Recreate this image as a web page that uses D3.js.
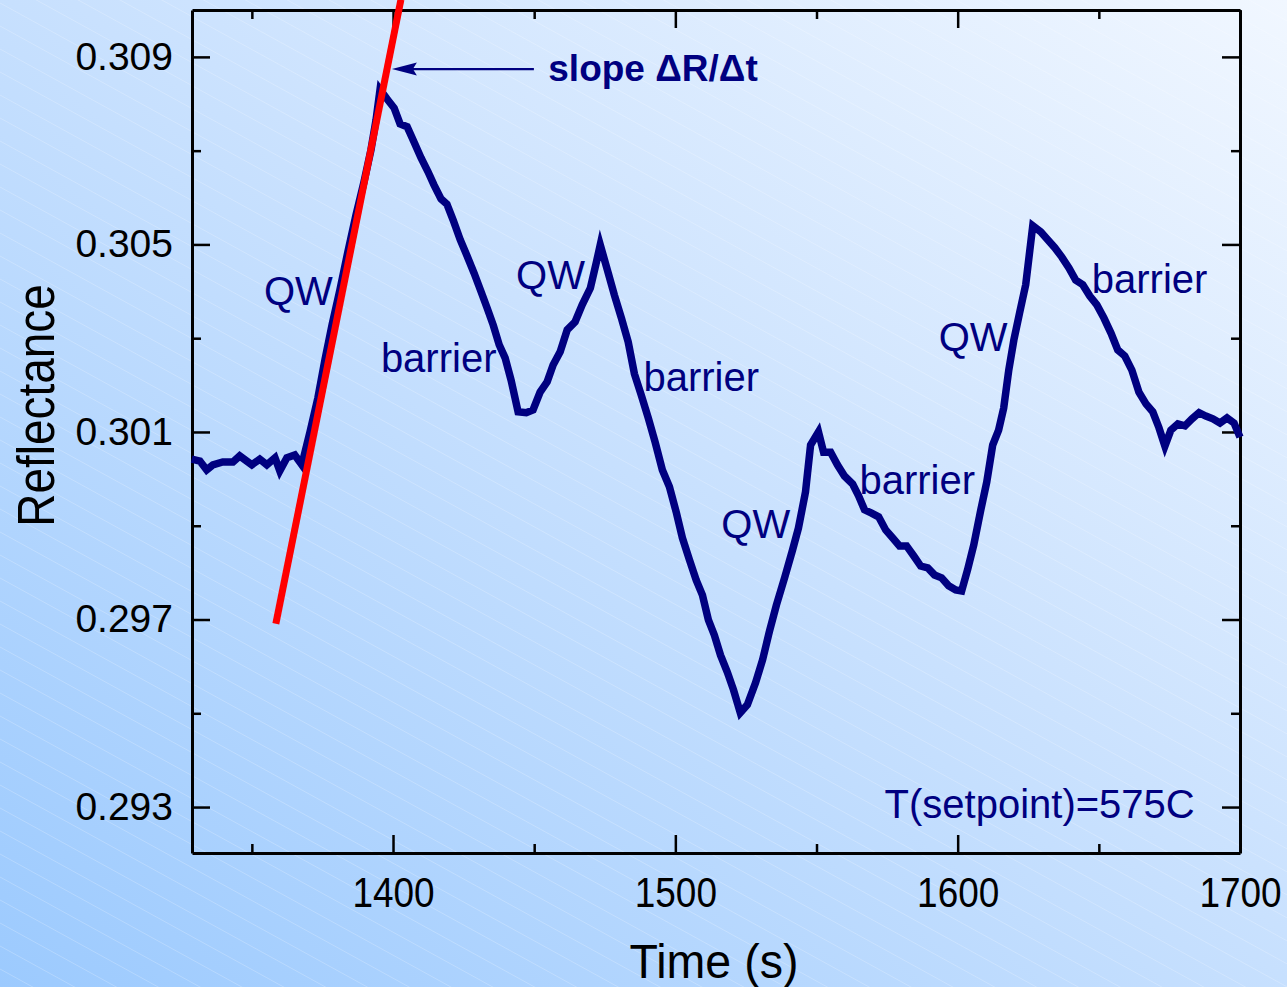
<!DOCTYPE html>
<html>
<head>
<meta charset="utf-8">
<script src="https://cdn.jsdelivr.net/npm/d3@7"></script>
<style>
  html, body { margin: 0; padding: 0; background: #cfe3fd; }
  svg { display: block; }
  text { font-family: "Liberation Sans", Arial, Helvetica, sans-serif; }
</style>
</head>
<body>
<svg id="chart" width="1287" height="987"></svg>
<script>
// ---------------- data ----------------
const times = [
  1328.7, 1331.6, 1334.0, 1336.2, 1339.7, 1343.3, 1345.7, 1350.0, 1352.8, 1355.3,
  1358.2, 1359.9, 1362.4, 1365.2, 1367.7, 1370.6, 1373.4, 1375.9, 1378.4, 1381.2,
  1384.0, 1386.9, 1389.7, 1392.2, 1394.0, 1395.4, 1397.9, 1400.4, 1402.5, 1405.0,
  1407.4, 1409.9, 1412.4, 1414.5, 1417.0, 1419.1, 1421.3, 1423.8, 1426.2, 1428.7,
  1431.2, 1433.3, 1435.5, 1437.6, 1439.7, 1441.8, 1444.3, 1447.2, 1449.6, 1452.1,
  1454.6, 1456.7, 1459.2, 1461.7, 1464.5, 1467.0, 1469.9, 1472.0, 1473.4, 1475.9,
  1478.4, 1480.9, 1483.3, 1485.5, 1487.9, 1490.4, 1492.9, 1495.4, 1497.9, 1500.4,
  1502.5, 1505.0, 1507.4, 1509.6, 1511.7, 1513.8, 1516.0, 1518.4, 1520.6, 1523.0,
  1525.5, 1528.4, 1530.9, 1533.3, 1535.8, 1538.7, 1541.5, 1543.6, 1546.1, 1547.9,
  1550.7, 1552.5, 1555.0, 1557.4, 1559.9, 1562.8, 1564.9, 1567.0, 1569.5, 1572.0,
  1574.5, 1577.0, 1579.4, 1581.9, 1584.4, 1586.9, 1589.4, 1591.8, 1594.3, 1596.8,
  1599.3, 1601.4, 1603.5, 1605.7, 1608.2, 1610.3, 1612.4, 1614.5, 1616.3, 1618.1,
  1619.9, 1622.0, 1624.1, 1626.6, 1629.4, 1631.9, 1634.4, 1636.9, 1639.4, 1641.8,
  1644.3, 1646.8, 1649.3, 1651.8, 1654.3, 1656.7, 1659.2, 1661.7, 1664.2, 1666.7,
  1669.1, 1671.3, 1673.4, 1675.5, 1678.0, 1680.5, 1683.0, 1685.5, 1687.9, 1690.4,
  1692.9, 1695.4, 1697.9, 1700.0
];
const reflectance = [
  0.30042, 0.30038, 0.30019, 0.30030, 0.30036, 0.30036, 0.30049, 0.30030, 0.30042, 0.30030,
  0.30045, 0.30017, 0.30045, 0.30051, 0.30030, 0.30100, 0.30173, 0.30254, 0.30328, 0.30403,
  0.30484, 0.30563, 0.30633, 0.30702, 0.30766, 0.30830, 0.30810, 0.30791, 0.30757, 0.30751,
  0.30719, 0.30685, 0.30655, 0.30627, 0.30597, 0.30586, 0.30552, 0.30510, 0.30476, 0.30439,
  0.30399, 0.30365, 0.30328, 0.30286, 0.30258, 0.30211, 0.30143, 0.30141, 0.30147, 0.30185,
  0.30207, 0.30243, 0.30271, 0.30318, 0.30335, 0.30371, 0.30407, 0.30461, 0.30499, 0.30446,
  0.30392, 0.30343, 0.30292, 0.30224, 0.30179, 0.30130, 0.30077, 0.30019, 0.29983, 0.29927,
  0.29874, 0.29827, 0.29784, 0.29752, 0.29699, 0.29667, 0.29624, 0.29588, 0.29550, 0.29501,
  0.29518, 0.29565, 0.29614, 0.29674, 0.29731, 0.29789, 0.29848, 0.29895, 0.29972, 0.30072,
  0.30100, 0.30057, 0.30057, 0.30030, 0.30006, 0.29989, 0.29964, 0.29934, 0.29927, 0.29919,
  0.29891, 0.29874, 0.29857, 0.29857, 0.29836, 0.29814, 0.29810, 0.29795, 0.29789, 0.29772,
  0.29763, 0.29761, 0.29806, 0.29859, 0.29934, 0.29993, 0.30072, 0.30104, 0.30151, 0.30232,
  0.30296, 0.30356, 0.30414, 0.30540, 0.30527, 0.30510, 0.30493, 0.30473, 0.30450, 0.30424,
  0.30414, 0.30390, 0.30371, 0.30343, 0.30311, 0.30275, 0.30262, 0.30232, 0.30185, 0.30160,
  0.30143, 0.30109, 0.30070, 0.30104, 0.30117, 0.30113, 0.30128, 0.30141, 0.30134, 0.30128,
  0.30119, 0.30130, 0.30119, 0.30089
];

// linear fit (red) endpoints
const fitTimes = [1358.5, 1402.8];
const fitValues = [0.29691, 0.31022];

// tick values
const xMajorTicks = [1400, 1500, 1600, 1700];
const xMinorTicks = [1350, 1450, 1550, 1650];
const yMajorTicks = [0.293, 0.297, 0.301, 0.305, 0.309];
const yMinorTicks = [0.295, 0.299, 0.303, 0.307];

// annotations (data coords: left x, baseline y)
const labelTexts = ["QW", "barrier", "QW", "barrier", "QW", "barrier", "QW", "barrier", "T(setpoint)=575C"];
const labelTimes = [1354.3, 1395.7, 1443.6, 1488.7, 1516.3, 1565.2, 1593.3, 1647.5, 1574.1];
const labelValues = [0.30371, 0.30228, 0.30405, 0.30188, 0.29874, 0.29968, 0.30273, 0.30397, 0.29277];

const slopeText = "slope \u0394R/\u0394t";
const slopeArrowTimes = [1449.9, 1399.6];   // tail, tip
const slopeArrowValue = 0.30874;
const slopeTextTime = 1455.0;
const slopeTextValue = 0.30849;

// ---------------- layout ----------------
const W = 1287, H = 987;
const mLeft = 192, mRight = 1240, mTop = 10, mBottom = 853;
const navy = "#000080";

const svg = d3.select("#chart");
const defs = svg.append("defs");

const grad = defs.append("linearGradient").attr("id", "bg")
  .attr("x1", 0).attr("y1", 1).attr("x2", 1).attr("y2", 0);
grad.append("stop").attr("offset", "0%").attr("stop-color", "#9ccafe");
grad.append("stop").attr("offset", "55%").attr("stop-color", "#cbe2fe");
grad.append("stop").attr("offset", "100%").attr("stop-color", "#f1f7ff");

svg.append("rect").attr("width", W).attr("height", H).attr("fill", "url(#bg)");

// faint diagonal stripes
const stripes = svg.append("g").attr("stroke", "#ffffff").attr("stroke-opacity", 0.22).attr("stroke-width", 1);
for (let k = -1400; k < H + 100; k += 23) {
  stripes.append("line").attr("x1", 0).attr("y1", k).attr("x2", W).attr("y2", k + W * 0.55);
}

const x = d3.scaleLinear().domain([1328.8, 1700]).range([mLeft, mRight]);
const y = d3.scaleLinear().domain([0.29202, 0.3100]).range([mBottom, mTop]);

// ---------------- axes ----------------
function styleAxis(g, width) {
  g.select(".domain").attr("stroke", "#000").attr("stroke-width", width);
  g.selectAll(".tick line").attr("stroke", "#000").attr("stroke-width", 2.5);
}

// minor ticks
svg.append("g").attr("transform", `translate(0,${mBottom})`)
  .call(d3.axisBottom(x).tickValues(xMinorTicks).tickSize(-9).tickFormat(""))
  .call(g => { g.select(".domain").remove(); styleAxis(g, 0); });
svg.append("g").attr("transform", `translate(0,${mTop})`)
  .call(d3.axisTop(x).tickValues(xMinorTicks).tickSize(-9).tickFormat(""))
  .call(g => { g.select(".domain").remove(); styleAxis(g, 0); });
svg.append("g").attr("transform", `translate(${mLeft},0)`)
  .call(d3.axisLeft(y).tickValues(yMinorTicks).tickSize(-9).tickFormat(""))
  .call(g => { g.select(".domain").remove(); styleAxis(g, 0); });
svg.append("g").attr("transform", `translate(${mRight},0)`)
  .call(d3.axisRight(y).tickValues(yMinorTicks).tickSize(-9).tickFormat(""))
  .call(g => { g.select(".domain").remove(); styleAxis(g, 0); });

// major ticks + labels
const xAxisB = svg.append("g").attr("transform", `translate(0,${mBottom})`)
  .call(d3.axisBottom(x).tickValues(xMajorTicks).tickSizeInner(-18).tickSizeOuter(0).tickPadding(24).tickFormat(d3.format("d")))
  .call(g => styleAxis(g, 3));
xAxisB.selectAll(".tick text")
  .attr("fill", "#000").attr("font-size", 42)
  .attr("font-family", "'Liberation Sans', Arial, sans-serif")
  .attr("transform", "scale(0.88,1)")
  .attr("dy", "0.72em");

svg.append("g").attr("transform", `translate(0,${mTop})`)
  .call(d3.axisTop(x).tickValues(xMajorTicks).tickSizeInner(-18).tickSizeOuter(0).tickFormat(""))
  .call(g => styleAxis(g, 3));

const yAxisL = svg.append("g").attr("transform", `translate(${mLeft},0)`)
  .call(d3.axisLeft(y).tickValues(yMajorTicks).tickSizeInner(-18).tickSizeOuter(0).tickPadding(19).tickFormat(d3.format(".3f")))
  .call(g => styleAxis(g, 3));
yAxisL.selectAll(".tick text")
  .attr("fill", "#000").attr("font-size", 39)
  .attr("font-family", "'Liberation Sans', Arial, sans-serif");

svg.append("g").attr("transform", `translate(${mRight},0)`)
  .call(d3.axisRight(y).tickValues(yMajorTicks).tickSizeInner(-18).tickSizeOuter(0).tickFormat(""))
  .call(g => styleAxis(g, 3));

// axis titles
svg.append("text")
  .attr("transform", `translate(${(mLeft + mRight) / 2 - 2},978) scale(0.95,1)`)
  .attr("text-anchor", "middle").attr("font-size", 49).attr("fill", "#000")
  .text("Time (s)");
svg.append("text")
  .attr("transform", `translate(54,${(mTop + mBottom) / 2 - 26}) rotate(-90) scale(0.9,1)`)
  .attr("text-anchor", "middle").attr("font-size", 51).attr("fill", "#000")
  .text("Reflectance");

// ---------------- data line ----------------
const series = times.map((t, i) => [t, reflectance[i]]);
svg.append("path")
  .datum(series)
  .attr("fill", "none")
  .attr("stroke", navy)
  .attr("stroke-width", 7.5)
  .attr("stroke-linejoin", "miter")
  .attr("stroke-miterlimit", 10)
  .attr("d", d3.line().x(d => x(d[0])).y(d => y(d[1])));

// fit line
const fit = fitTimes.map((t, i) => [t, fitValues[i]]);
svg.append("path")
  .datum(fit)
  .attr("fill", "none")
  .attr("stroke", "#ff0000")
  .attr("stroke-width", 7)
  .attr("d", d3.line().x(d => x(d[0])).y(d => y(d[1])));

// ---------------- annotations ----------------
svg.append("g").selectAll("text")
  .data(labelTexts)
  .join("text")
  .attr("x", (d, i) => x(labelTimes[i]))
  .attr("y", (d, i) => y(labelValues[i]))
  .attr("font-size", 40)
  .attr("fill", navy)
  .text(d => d);

// slope arrow
const ax0 = x(slopeArrowTimes[0]), ax1 = x(slopeArrowTimes[1]), ay = y(slopeArrowValue);
svg.append("line")
  .attr("x1", ax0).attr("y1", ay).attr("x2", ax1 + 20).attr("y2", ay)
  .attr("stroke", navy).attr("stroke-width", 2.2);
svg.append("path")
  .attr("d", `M${ax1},${ay} L${ax1 + 25},${ay - 6.5} L${ax1 + 21},${ay} L${ax1 + 25},${ay + 6.5} Z`)
  .attr("fill", navy);
svg.append("text")
  .attr("x", x(slopeTextTime)).attr("y", y(slopeTextValue))
  .attr("font-size", 37).attr("font-weight", "bold").attr("fill", navy)
  .text(slopeText);
</script>
</body>
</html>
